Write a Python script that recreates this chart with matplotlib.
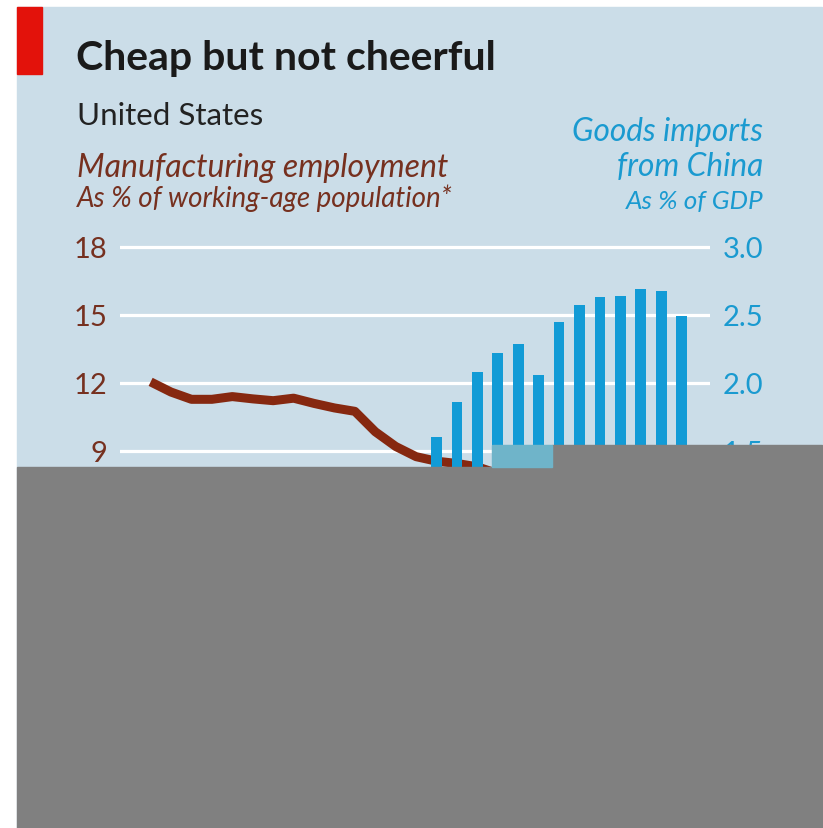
import matplotlib
matplotlib.use("Agg")
import matplotlib.pyplot as plt
from matplotlib.patches import Rectangle

# data (values below the grey block are estimates)
years_emp = list(range(1990, 2017))
manuf_emp = [12.05, 11.6, 11.28, 11.28, 11.4, 11.3, 11.22, 11.33, 11.1, 10.9,
             10.75, 9.85, 9.2, 8.75, 8.55, 8.45, 8.3, 8.0, 7.6, 6.6,
             6.3, 6.3, 6.35, 6.35, 6.4, 6.4, 6.3]

years_imp = list(range(1990, 2017))
china_imports = [0.26, 0.32, 0.4, 0.47, 0.53, 0.6, 0.63, 0.7, 0.78, 0.85,
                 0.98, 0.97, 1.1, 1.3, 1.6, 1.86, 2.08, 2.22, 2.29, 2.06,
                 2.45, 2.57, 2.63, 2.64, 2.69, 2.68, 2.49]

left_ticks = [0, 3, 6, 9, 12, 15, 18]
right_ticks = [0, 0.5, 1.0, 1.5, 2.0, 2.5, 3.0]
right_labels = ["0", "0.5", "1.0", "1.5", "2.0", "2.5", "3.0"]

BG = "#cbdde8"
BROWN = "#862810"
BROWN_TXT = "#76301f"
BLUE = "#129bd6"
BLUE_TXT = "#1a9ad0"
FONT = "Lato"

W, H = 823, 829
fig = plt.figure(figsize=(W / 100, H / 100), dpi=100)
fig.patch.set_facecolor("white")


def px(x, y):
    return x / W, 1 - y / H


# background panel and red tag
fig.patches.append(Rectangle(px(17, 829), (822 - 17) / W, (829 - 8) / H,
                             transform=fig.transFigure, color=BG, zorder=-5))
fig.patches.append(Rectangle(px(17, 75), 25 / W, 67 / H,
                             transform=fig.transFigure, color="#e3120b", zorder=-4))

# axes: x 120..710 px, y (0 at 656 px, 18.3 at 241 px)
x0, y0 = px(120, 656)
x1, y1 = px(710, 241.2)
ax = fig.add_axes([x0, y0, x1 - x0, y1 - y0])
ax.set_facecolor("none")
ax.set_xlim(1988.5, 2017.39)
ax.set_ylim(0, 18.3)
ax.set_yticks(left_ticks)
ax.yaxis.grid(True, color="white", linewidth=2.3)
ax.set_axisbelow(True)
ax.tick_params(axis="y", length=0, pad=9, labelsize=21, labelcolor=BROWN_TXT)
ax.tick_params(axis="x", length=0, labelbottom=False)
for lab in ax.get_yticklabels():
    lab.set_fontfamily(FONT)
for s in ax.spines.values():
    s.set_visible(False)

ax.plot(years_emp, manuf_emp, color=BROWN, linewidth=6.5, solid_capstyle="butt",
        solid_joinstyle="round")

ax2 = ax.twinx()
ax2.set_ylim(0, 3.05)
ax2.set_yticks(right_ticks)
ax2.set_yticklabels(right_labels)
ax2.tick_params(axis="y", length=0, pad=9, labelsize=21, labelcolor=BLUE_TXT)
for lab in ax2.get_yticklabels():
    lab.set_fontfamily(FONT)
for s in ax2.spines.values():
    s.set_visible(False)
ax2.bar(years_imp, china_imports, width=0.53, color=BLUE)

# text
fig.text(*px(76, 70), "Cheap but not cheerful", fontsize=29.5, fontweight="bold",
         color="#1a1a1a", family=FONT, va="baseline")
fig.text(*px(77, 125), "United States", fontsize=22.5, color="#222222",
         family=FONT, va="baseline")
fig.text(*px(77, 177), "Manufacturing employment", fontsize=23, style="italic",
         color=BROWN_TXT, family=FONT, va="baseline")
fig.text(*px(77, 207), "As % of working-age population*", fontsize=20,
         style="italic", color=BROWN_TXT, family=FONT, va="baseline")
fig.text(*px(763, 141), "Goods imports", fontsize=22.8, style="italic",
         color=BLUE_TXT, family=FONT, va="baseline", ha="right")
fig.text(*px(763, 176), "from China", fontsize=22.8, style="italic",
         color=BLUE_TXT, family=FONT, va="baseline", ha="right")
fig.text(*px(763, 209), "As % of GDP", fontsize=18.8, style="italic",
         color=BLUE_TXT, family=FONT, va="baseline", ha="right")

# grey block covering the lower part of the reference image
fig.patches.append(Rectangle(px(17, 829), (822 - 17) / W, (829 - 468) / H,
                             transform=fig.transFigure, color="#808080", zorder=10))
fig.patches.append(Rectangle(px(552, 468), (822 - 552) / W, 22 / H,
                             transform=fig.transFigure, color="#808080", zorder=10))
fig.patches.append(Rectangle(px(492, 468), 60 / W, 22 / H,
                             transform=fig.transFigure, color="#6fb4c9", zorder=10))

fig.savefig("out.png", dpi=100)
